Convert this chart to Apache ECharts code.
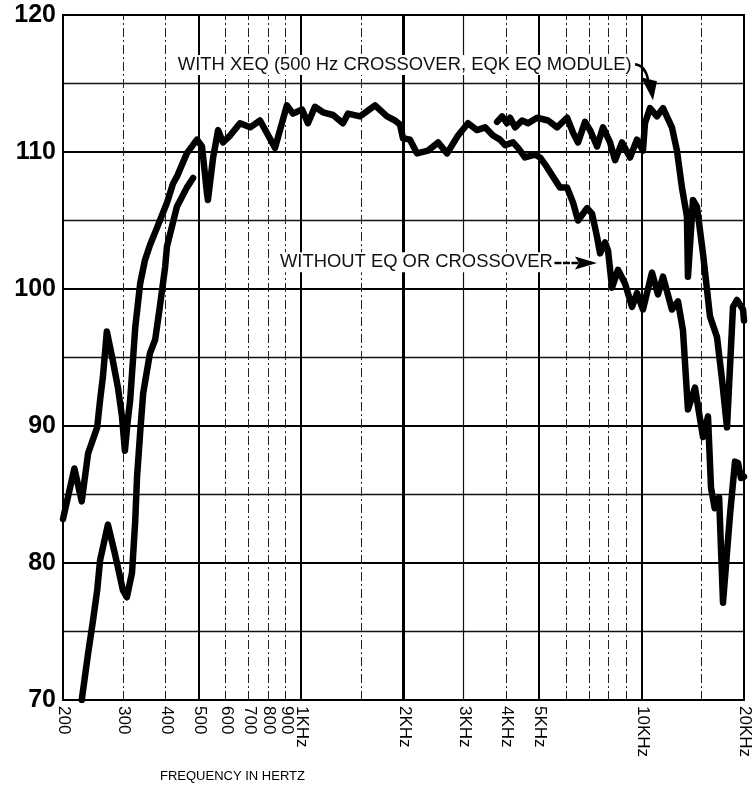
<!DOCTYPE html>
<html>
<head>
<meta charset="utf-8">
<script src="https://cdn.jsdelivr.net/npm/echarts@6/dist/echarts.min.js"></script>
<style>
html,body{margin:0;padding:0;background:#fff;}
#c{width:752px;height:788px;}
</style>
</head>
<body>
<div id="c"></div>
<script>
// ---- tick labels / grid ----
const xTickValues = [200,300,400,500,600,700,800,900,1000,2000,3000,4000,5000,10000,20000];
const xTickLabels = ['200','300','400','500','600','700','800','900','1KHz','2KHz','3KHz','4KHz','5KHz','10KHz','20KHz'];
const solidGridFreqs = [500,1000,2000,5000,10000];
const thinGridFreqs = [3000];
const dashedGridFreqs = [300,400,600,700,800,900,1500,4000,6000,7000,8000,9000,15000];
const yMin = 70, yMax = 120, yStep = 10;

// ---- curve: WITHOUT EQ OR CROSSOVER (full range) ----
const mainFreq = [200,216,227,237,252,257,262,269,280,290,298,304,309,315,326,337,348,360,378,404,421,432,462,488,495,512,530,533,552,571,590,619,662,709,758,839,909,947,1007,1048,1099,1160,1242,1328,1374,1490,1650,1789,1888,1953,1993,2090,2191,2361,2526,2685,2892,3094,3288,3472,3664,3842,3974,4195,4340,4550,4869,5036,5210,5462,5766,6046,6295,6511,6919,7157,7404,7556,7816,7975,8193,8531,8945,9379,9698,10100,10735,11179,11564,12286,12796,13235,13691,14357,15155,15677,16000,16400,16900,17352,18193,18819,19205,19600,20000];
const mainDb = [83.2,86.9,84.5,88.0,89.9,91.9,93.6,96.9,94.8,92.8,90.7,88.2,90.1,91.9,97.2,100.4,102.1,103.2,104.5,106.3,107.7,108.2,109.9,110.7,110.9,110.4,106.9,106.5,109.6,111.6,110.7,111.2,112.1,111.8,112.3,110.3,113.4,112.8,113.1,112.1,113.3,112.9,112.7,112.1,112.8,112.6,113.4,112.6,112.3,112.0,111.0,110.9,109.9,110.1,110.7,109.9,111.2,112.1,111.6,111.8,111.2,110.9,110.5,110.7,110.3,109.6,109.8,109.6,109.1,108.3,107.4,107.4,106.3,105.0,105.9,105.5,103.8,102.6,103.4,102.8,100.1,101.4,100.4,98.7,99.7,98.5,101.2,99.6,100.9,98.5,99.1,97.0,91.2,92.8,89.2,90.7,85.5,84.0,84.8,77.1,83.5,87.4,87.3,86.2,86.3];

// ---- curve: WITH XEQ, low-frequency part ----
const xeqLowFreq = [227,237,245,252,257,271,284,300,308,319,326,330,337,344,360,373,385,399,404,432,462,482];
const xeqLowDb = [70.0,73.4,75.8,78.0,80.2,82.8,80.7,78.0,77.5,79.3,83.1,86.3,89.5,92.4,95.3,96.3,98.7,101.6,103.1,106.0,107.4,108.1];

// ---- curve: WITH XEQ, high-frequency part ----
const xeqHighFreq = [3765,3895,4029,4111,4253,4459,4644,4935,5316,5650,6046,6295,6511,6826,7061,7404,7710,8084,8361,8766,9253,9698,10100,10237,10590,11104,11564,12286,12710,13146,13598,13691,14163,14553,15155,15889,16661,17235,17828,18566,19075,19867,20000];
const xeqHighDb = [112.2,112.6,112.1,112.5,111.8,112.3,112.1,112.5,112.3,111.8,112.5,111.4,110.7,112.2,111.6,110.4,111.8,110.7,109.4,110.7,109.6,110.9,110.1,112.1,113.2,112.6,113.2,111.8,110.1,107.4,105.3,100.9,106.5,106.0,102.6,98.0,96.5,93.4,89.9,98.7,99.2,98.5,97.7];

// ---- annotation texts ----
const withXeqText = 'WITH XEQ (500 Hz CROSSOVER, EQK EQ MODULE)';
const withoutText = 'WITHOUT EQ OR CROSSOVER';
const axisTitle = 'FREQUENCY IN HERTZ';

const FONT = '"Liberation Sans", Arial, Helvetica, sans-serif';
const zip = (xs, ys) => xs.map((x, i) => [x, ys[i]]);

const gridLines = []
  .concat(solidGridFreqs.map(f => ({xAxis: f, lineStyle: {type: 'solid', width: f === 2000 ? 3 : 2, color: '#000'}})))
  .concat(thinGridFreqs.map(f => ({xAxis: f, lineStyle: {type: 'solid', width: 1.2, color: '#111'}})))
  .concat(dashedGridFreqs.map(f => ({xAxis: f, lineStyle: {type: [9, 3, 2, 3], width: 1, color: '#222'}})));

const curveStyle = {color: '#000', width: 6.5, cap: 'round', join: 'round'};

const chart = echarts.init(document.getElementById('c'), null, {renderer: 'canvas'});
chart.setOption({
  animation: false,
  backgroundColor: '#fff',
  title: {
    text: axisTitle, left: 160, top: 770, padding: 0,
    textStyle: {fontFamily: FONT, fontSize: 13, fontWeight: 'normal', color: '#000'}
  },
  grid: {left: 63, right: 8, top: 15, bottom: 88, show: true, borderColor: '#000', borderWidth: 2},
  xAxis: {
    type: 'log', logBase: 10, min: 200, max: 20000,
    axisLine: {show: true, lineStyle: {color: '#000', width: 2}},
    axisTick: {show: false}, axisLabel: {show: false}, splitLine: {show: false}
  },
  yAxis: {
    type: 'value', min: yMin, max: yMax, interval: yStep,
    axisLine: {show: true, lineStyle: {color: '#000', width: 2}},
    axisTick: {show: false},
    axisLabel: {fontFamily: FONT, fontSize: 25, fontWeight: 'bold', color: '#000', margin: 7},
    splitLine: {show: true, lineStyle: {color: '#000', width: 2}},
    minorTick: {show: false, splitNumber: 2},
    minorSplitLine: {show: true, lineStyle: {color: '#111', width: 1.3}}
  },
  series: [
    {
      name: 'WITHOUT EQ OR CROSSOVER', type: 'line', z: 10,
      data: zip(mainFreq, mainDb), showSymbol: false, symbol: 'none',
      lineStyle: curveStyle,
      markLine: {silent: true, z: 1, symbol: ['none', 'none'], label: {show: false}, animation: false, data: gridLines}
    },
    {
      name: 'WITH XEQ low', type: 'line', z: 10,
      data: zip(xeqLowFreq, xeqLowDb), showSymbol: false, symbol: 'none',
      lineStyle: curveStyle
    },
    {
      name: 'WITH XEQ high', type: 'line', z: 10,
      data: zip(xeqHighFreq, xeqHighDb), showSymbol: false, symbol: 'none',
      lineStyle: curveStyle
    }
  ]
});

// ---- texts and arrows placed through the chart's own scales ----
const px = (f, db) => chart.convertToPixel({gridIndex: 0}, [f, db]);
const bottomY = px(200, yMin)[1];
const graphics = [];
xTickValues.forEach((f, i) => {
  const p = px(f, yMin);
  graphics.push({
    type: 'text', x: p[0] + 1, y: bottomY + 6, rotation: -Math.PI / 2, z: 20,
    style: {text: xTickLabels[i], font: '17px ' + FONT, fill: '#000',
      align: 'left', verticalAlign: 'middle', textAlign: 'left', textVerticalAlign: 'middle'}
  });
});
const a1 = px(429, 116.35);
graphics.push({
  type: 'text', x: a1[0], y: a1[1], z: 20,
  style: {text: withXeqText, font: '18.4px ' + FONT, fill: '#111', backgroundColor: '#fff', padding: [1, 2],
    align: 'left', verticalAlign: 'middle', textAlign: 'left', textVerticalAlign: 'middle'}
});
const a2 = px(856, 101.95);
graphics.push({
  type: 'text', x: a2[0], y: a2[1], z: 20,
  style: {text: withoutText, font: '18.4px ' + FONT, fill: '#111', backgroundColor: '#fff', padding: [1, 2],
    align: 'left', verticalAlign: 'middle', textAlign: 'left', textVerticalAlign: 'middle'}
});
// arrow for WITHOUT
const s2 = px(5550, 101.9), t2 = px(7400, 101.9);
graphics.push({type: 'line', z: 20, shape: {x1: s2[0], y1: s2[1], x2: t2[0] - 18, y2: t2[1]},
  style: {stroke: '#000', lineWidth: 2.5, lineDash: [7, 1.5]}});
graphics.push({type: 'polygon', z: 20, shape: {points: [[t2[0], t2[1]], [t2[0] - 22, t2[1] - 6.5], [t2[0] - 18, t2[1]], [t2[0] - 22, t2[1] + 6.5]]},
  style: {fill: '#000'}});
// curved arrow for WITH XEQ
const s1 = px(9570, 116.4);
graphics.push({type: 'bezierCurve', z: 20,
  shape: {x1: s1[0], y1: s1[1], cpx1: s1[0] + 10, cpy1: s1[1] + 1, x2: s1[0] + 13, y2: s1[1] + 15},
  style: {stroke: '#000', lineWidth: 2.5, fill: null}});
graphics.push({type: 'polygon', z: 20,
  shape: {points: [[s1[0] + 6, s1[1] + 13], [s1[0] + 22, s1[1] + 17], [s1[0] + 18, s1[1] + 36]]},
  style: {fill: '#000'}});
chart.setOption({graphic: graphics});
</script>
</body>
</html>
